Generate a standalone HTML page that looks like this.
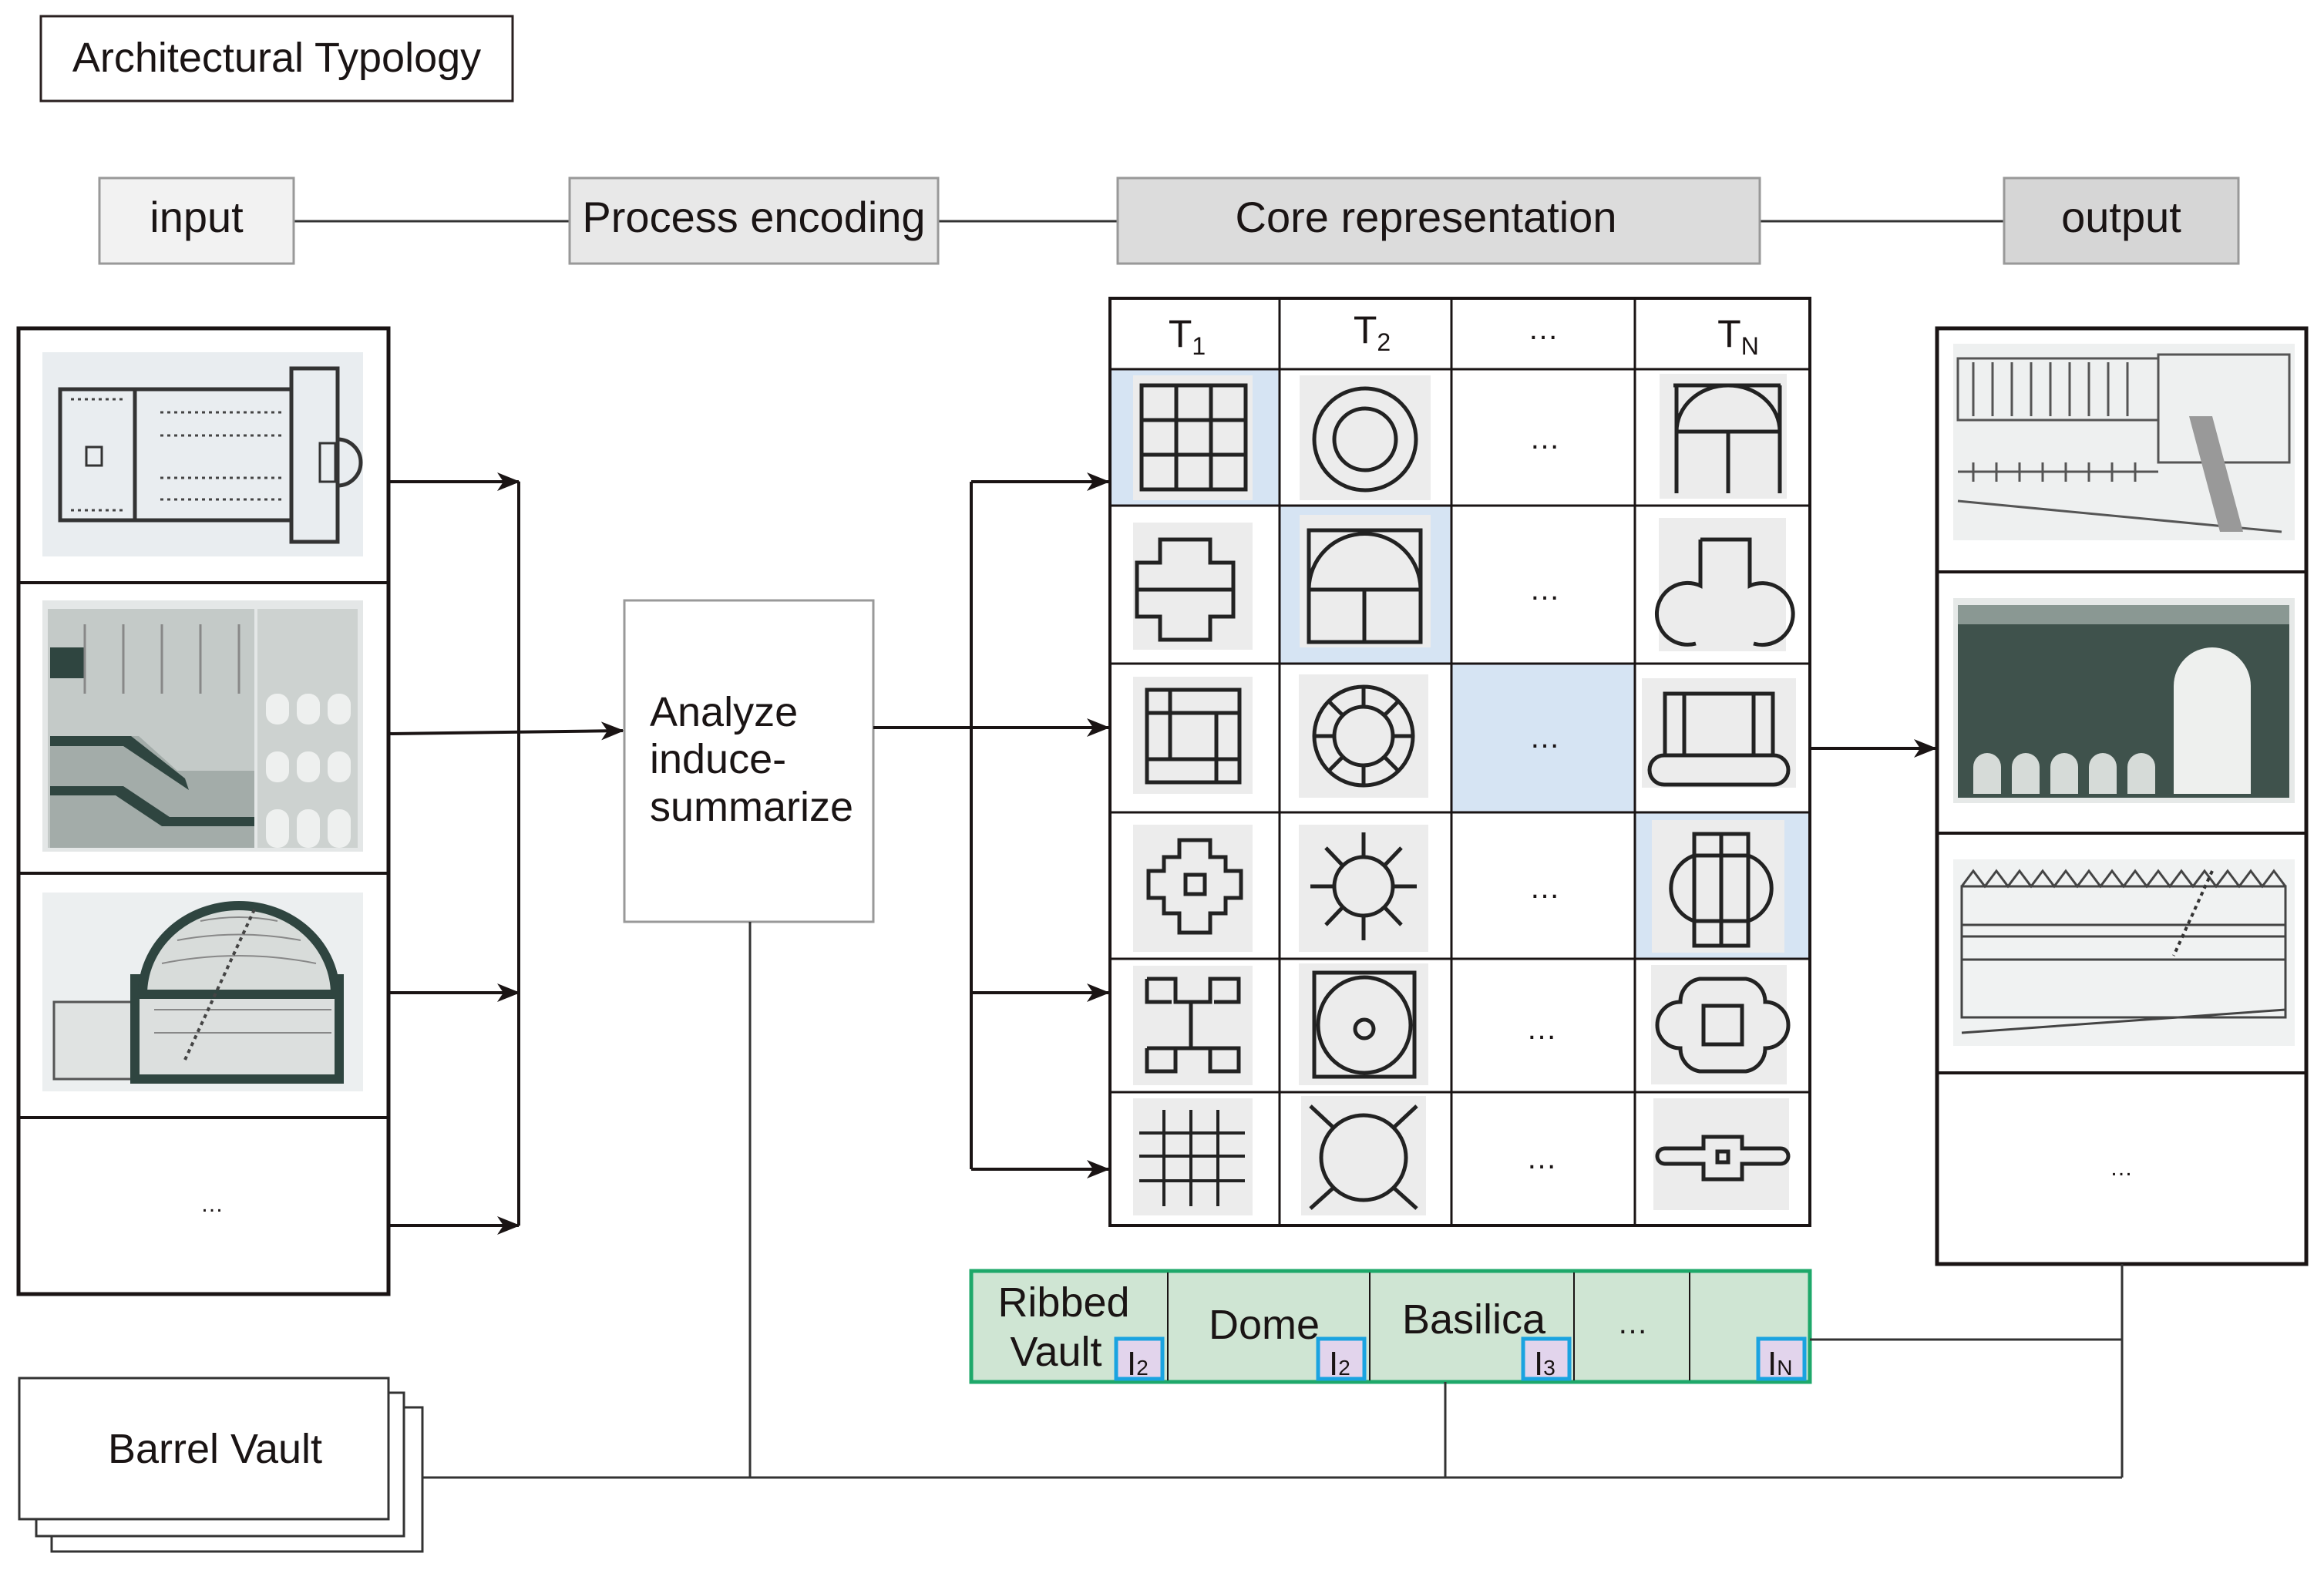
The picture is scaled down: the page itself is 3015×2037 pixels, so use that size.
<!DOCTYPE html>
<html><head><meta charset="utf-8"><style>
html,body{margin:0;padding:0;background:#fff;}
svg{display:block;}
text{font-family:"Liberation Sans","DejaVu Sans",sans-serif;fill:#1a1414;}
</style></head><body>
<svg width="3015" height="2037" viewBox="0 0 3015 2037" xmlns="http://www.w3.org/2000/svg">
<defs>
<marker id="ar" markerWidth="30" markerHeight="24" refX="28" refY="12" orient="auto" markerUnits="userSpaceOnUse">
<path d="M0,0 L30,12 L0,24 L8,12 Z" fill="#1a1414"/>
</marker>
</defs>

<!-- title -->
<rect x="53" y="21" width="612" height="110" fill="#fff" stroke="#2a2020" stroke-width="3"/>
<text x="359" y="93" font-size="54" text-anchor="middle">Architectural Typology</text>

<!-- stage line -->
<line x1="381" y1="287" x2="2600" y2="287" stroke="#333" stroke-width="3"/>
<rect x="129" y="231" width="252" height="111" fill="#f2f2f2" stroke="#999" stroke-width="3"/>
<text x="255" y="301" font-size="56" text-anchor="middle">input</text>
<rect x="739" y="231" width="478" height="111" fill="#e8e8e8" stroke="#999" stroke-width="3"/>
<text x="978" y="301" font-size="56" text-anchor="middle">Process encoding</text>
<rect x="1450" y="231" width="833" height="111" fill="#dcdcdc" stroke="#999" stroke-width="3"/>
<text x="1850" y="301" font-size="56" text-anchor="middle">Core representation</text>
<rect x="2600" y="231" width="304" height="111" fill="#d6d6d6" stroke="#999" stroke-width="3"/>
<text x="2752" y="301" font-size="56" text-anchor="middle">output</text>

<!-- left input panel -->
<rect x="24" y="426" width="480" height="1253" fill="#fff" stroke="#1a1414" stroke-width="5"/>
<line x1="24" y1="756" x2="504" y2="756" stroke="#1a1414" stroke-width="4"/>
<line x1="24" y1="1133" x2="504" y2="1133" stroke="#1a1414" stroke-width="4"/>
<line x1="24" y1="1450" x2="504" y2="1450" stroke="#1a1414" stroke-width="4"/>
<!-- img1 plan -->
<rect x="55" y="457" width="416" height="265" fill="#e9edf0"/>
<g fill="none" stroke="#333" stroke-width="5">
<rect x="78" y="505" width="300" height="170"/>
<rect x="378" y="478" width="60" height="225"/>
<line x1="175" y1="505" x2="175" y2="675"/>
<path d="M438,570 a30,30 0 0 1 0,60"/>
<rect x="112" y="580" width="20" height="24" stroke-width="3"/>
<rect x="415" y="575" width="20" height="50" stroke-width="3"/>
</g>
<g stroke="#444" stroke-width="3" stroke-dasharray="4,5">
<line x1="208" y1="535" x2="370" y2="535"/><line x1="208" y1="565" x2="370" y2="565"/>
<line x1="208" y1="620" x2="370" y2="620"/><line x1="208" y1="648" x2="370" y2="648"/>
<line x1="92" y1="518" x2="160" y2="518"/><line x1="92" y1="662" x2="160" y2="662"/>
</g>
<!-- img2 -->
<rect x="55" y="779" width="416" height="326" fill="#e4e7e7"/>
<rect x="62" y="790" width="268" height="310" fill="#c4cac8"/>
<rect x="334" y="790" width="130" height="310" fill="#cdd2d0"/>
<path d="M65,955 L180,955 L230,1000 L330,1000 L330,1100 L65,1100 Z" fill="#a3aca9"/>
<path d="M65,1020 L160,1020 L220,1060 L330,1060 L330,1072 L210,1072 L150,1032 L65,1032Z" fill="#2f4540"/>
<path d="M65,955 L170,955 L240,1010 L245,1025 L160,968 L65,968Z" fill="#2f4540"/>
<path d="M65,840 L110,840 L110,880 L65,880Z" fill="#2f4540"/>
<g fill="#eef0ef"><rect x="345" y="900" width="30" height="40" rx="14"/><rect x="385" y="900" width="30" height="40" rx="14"/><rect x="425" y="900" width="30" height="40" rx="14"/>
<rect x="345" y="975" width="30" height="40" rx="14"/><rect x="385" y="975" width="30" height="40" rx="14"/><rect x="425" y="975" width="30" height="40" rx="14"/>
<rect x="345" y="1050" width="30" height="50" rx="14"/><rect x="385" y="1050" width="30" height="50" rx="14"/><rect x="425" y="1050" width="30" height="50" rx="14"/></g>
<g stroke="#888" stroke-width="3"><line x1="110" y1="810" x2="110" y2="900"/><line x1="160" y1="810" x2="160" y2="900"/><line x1="210" y1="810" x2="210" y2="900"/><line x1="260" y1="810" x2="260" y2="900"/><line x1="310" y1="810" x2="310" y2="900"/></g>
<!-- img3 pantheon -->
<rect x="55" y="1158" width="416" height="258" fill="#eceff0"/>
<rect x="70" y="1300" width="130" height="100" fill="#e0e3e2" stroke="#555" stroke-width="3"/>
<rect x="175" y="1270" width="265" height="130" fill="#dcdfde" stroke="#2f4540" stroke-width="12"/>
<path d="M185,1290 A125,115 0 0 1 435,1290 Z" fill="#d8dcda" stroke="#2f4540" stroke-width="12"/>
<g stroke="#888" stroke-width="2" fill="none">
<path d="M210,1250 Q310,1230 410,1250"/><path d="M230,1220 Q310,1205 390,1220"/><path d="M260,1195 Q310,1185 360,1195"/>
<line x1="200" y1="1340" x2="430" y2="1340"/><line x1="200" y1="1310" x2="430" y2="1310"/>
</g>
<line x1="330" y1="1180" x2="240" y2="1375" stroke="#444" stroke-width="4" stroke-dasharray="5,5"/>
<text x="275" y="1572" font-size="30" text-anchor="middle">…</text>

<!-- left connectors -->
<line x1="504" y1="625" x2="673" y2="625" stroke="#1a1414" stroke-width="4" marker-end="url(#ar)"/>
<line x1="504" y1="1288" x2="673" y2="1288" stroke="#1a1414" stroke-width="4" marker-end="url(#ar)"/>
<line x1="504" y1="1590" x2="673" y2="1590" stroke="#1a1414" stroke-width="4" marker-end="url(#ar)"/>
<line x1="673" y1="625" x2="673" y2="1590" stroke="#1a1414" stroke-width="4"/>
<line x1="504" y1="952" x2="808" y2="948" stroke="#1a1414" stroke-width="4" marker-end="url(#ar)"/>

<!-- analyze -->
<rect x="810" y="779" width="323" height="417" fill="#fff" stroke="#999" stroke-width="3"/>
<text x="843" y="942" font-size="54">Analyze</text>
<text x="843" y="1003" font-size="54">induce-</text>
<text x="843" y="1065" font-size="54">summarize</text>

<!-- middle connectors -->
<line x1="1133" y1="944" x2="1438" y2="944" stroke="#1a1414" stroke-width="4" marker-end="url(#ar)"/>
<line x1="1260" y1="625" x2="1260" y2="1517" stroke="#1a1414" stroke-width="4"/>
<line x1="1260" y1="625" x2="1438" y2="625" stroke="#1a1414" stroke-width="4" marker-end="url(#ar)"/>
<line x1="1260" y1="1288" x2="1438" y2="1288" stroke="#1a1414" stroke-width="4" marker-end="url(#ar)"/>
<line x1="1260" y1="1517" x2="1438" y2="1517" stroke="#1a1414" stroke-width="4" marker-end="url(#ar)"/>

<!-- table -->
<rect x="1440" y="387" width="908" height="1203" fill="#fff"/>
<rect x="1440" y="479" width="220" height="177" fill="#d6e4f3"/>
<rect x="1660" y="656" width="223" height="205" fill="#d6e4f3"/>
<rect x="1883" y="861" width="238" height="193" fill="#d6e4f3"/>
<rect x="2121" y="1054" width="227" height="190" fill="#d6e4f3"/>
<g stroke="#1a1414" stroke-width="3">
<line x1="1660" y1="387" x2="1660" y2="1590"/><line x1="1883" y1="387" x2="1883" y2="1590"/><line x1="2121" y1="387" x2="2121" y2="1590"/>
<line x1="1440" y1="479" x2="2348" y2="479"/><line x1="1440" y1="656" x2="2348" y2="656"/><line x1="1440" y1="861" x2="2348" y2="861"/>
<line x1="1440" y1="1054" x2="2348" y2="1054"/><line x1="1440" y1="1244" x2="2348" y2="1244"/><line x1="1440" y1="1417" x2="2348" y2="1417"/>
</g>
<rect x="1440" y="387" width="908" height="1203" fill="none" stroke="#1a1414" stroke-width="4"/>
<text x="1540" y="450" font-size="50" text-anchor="middle">T<tspan font-size="32" dy="10">1</tspan></text>
<text x="1780" y="445" font-size="50" text-anchor="middle">T<tspan font-size="32" dy="10">2</tspan></text>
<text x="2002" y="440" font-size="40" text-anchor="middle">…</text>
<text x="2255" y="450" font-size="50" text-anchor="middle">T<tspan font-size="32" dy="10">N</tspan></text>
<g font-size="40" text-anchor="middle">
<text x="2004" y="582">…</text><text x="2004" y="778">…</text><text x="2004" y="970">…</text>
<text x="2004" y="1165">…</text><text x="2000" y="1348">…</text><text x="2000" y="1516">…</text>
</g>

<!-- icon backgrounds -->
<g fill="#ececec">
<rect x="1470" y="487" width="155" height="162"/><rect x="1686" y="487" width="170" height="162"/><rect x="2153" y="485" width="165" height="162"/>
<rect x="1470" y="678" width="155" height="165"/><rect x="1686" y="668" width="170" height="172"/><rect x="2152" y="672" width="165" height="173"/>
<rect x="1470" y="878" width="155" height="152"/><rect x="1685" y="875" width="168" height="160"/><rect x="2130" y="880" width="200" height="142"/>
<rect x="1470" y="1070" width="155" height="165"/><rect x="1685" y="1070" width="168" height="165"/><rect x="2143" y="1064" width="172" height="172"/>
<rect x="1470" y="1253" width="155" height="155"/><rect x="1685" y="1250" width="168" height="158"/><rect x="2142" y="1252" width="176" height="155"/>
<rect x="1470" y="1425" width="155" height="152"/><rect x="1688" y="1422" width="162" height="155"/><rect x="2145" y="1425" width="176" height="145"/>
</g>
<g fill="none" stroke="#222" stroke-width="5">
<rect x="1481" y="500" width="135" height="135"/><line x1="1481" y1="545" x2="1616" y2="545"/><line x1="1481" y1="590" x2="1616" y2="590"/><line x1="1526" y1="500" x2="1526" y2="635"/><line x1="1571" y1="500" x2="1571" y2="635"/>
<circle cx="1771" cy="570" r="66"/><circle cx="1771" cy="570" r="40"/>
<path d="M2171,500 L2310,500 M2175,560 A67,60 0 0 1 2309,560 L2175,560 M2175,500 L2175,640 M2309,500 L2309,640 M2242,560 L2242,640"/>
<path d="M1505,700 L1570,700 L1570,730 L1600,730 L1600,800 L1570,800 L1570,830 L1505,830 L1505,800 L1475,800 L1475,730 L1505,730 Z"/>
<line x1="1475" y1="765" x2="1600" y2="765"/>
<rect x="1698" y="688" width="145" height="145"/><path d="M1698,765 A72,72 0 0 1 1843,765 L1698,765 M1770,765 L1770,833"/>
<path d="M2206,700 L2270,700 L2270,760 A40,40 0 1 1 2275,835 M2206,700 L2206,760 A40,40 0 1 0 2200,835"/>
<rect x="1488" y="895" width="120" height="120"/><rect x="1518" y="925" width="60" height="60"/>
<line x1="1488" y1="925" x2="1608" y2="925"/><line x1="1488" y1="985" x2="1608" y2="985"/><line x1="1518" y1="895" x2="1518" y2="925"/><line x1="1578" y1="985" x2="1578" y2="1015"/>
<circle cx="1769" cy="955" r="64"/><circle cx="1769" cy="955" r="38"/>
<path d="M1769,891 L1769,917 M1769,993 L1769,1019 M1705,955 L1731,955 M1807,955 L1833,955 M1724,910 L1742,928 M1814,910 L1796,928 M1724,1000 L1742,982 M1814,1000 L1796,982"/>
<rect x="2160" y="900" width="140" height="80"/><line x1="2185" y1="900" x2="2185" y2="980"/><line x1="2275" y1="900" x2="2275" y2="980"/>
<rect x="2140" y="980" width="180" height="38" rx="19"/>
<path d="M1530,1090 L1570,1090 L1570,1112 L1590,1112 L1590,1130 L1610,1130 L1610,1165 L1590,1165 L1590,1185 L1570,1185 L1570,1210 L1530,1210 L1530,1185 L1510,1185 L1510,1165 L1490,1165 L1490,1130 L1510,1130 L1510,1112 L1530,1112Z"/>
<rect x="1538" y="1135" width="25" height="25"/>
<circle cx="1769" cy="1150" r="38"/>
<path d="M1769,1112 L1769,1080 M1769,1188 L1769,1220 M1731,1150 L1700,1150 M1807,1150 L1838,1150 M1742,1123 L1720,1100 M1796,1123 L1818,1100 M1742,1177 L1720,1200 M1796,1177 L1818,1200"/>
<rect x="2198" y="1082" width="70" height="145"/><line x1="2233" y1="1082" x2="2233" y2="1227"/>
<path d="M2198,1110 A45,45 0 0 0 2198,1195 M2268,1110 A45,45 0 0 1 2268,1195 M2198,1110 L2268,1110 M2198,1195 L2268,1195"/>
<path d="M1488,1270 L1525,1270 L1525,1300 L1570,1300 L1570,1270 L1607,1270 L1607,1300 L1575,1300 M1488,1270 L1488,1300 L1520,1300 M1545,1300 L1545,1360 M1488,1360 L1607,1360 L1607,1390 L1570,1390 L1570,1360 M1488,1360 L1488,1390 L1525,1390 L1525,1360"/>
<rect x="1705" y="1262" width="130" height="135"/><ellipse cx="1770" cy="1330" rx="60" ry="62"/><circle cx="1770" cy="1335" r="12"/>
<path d="M2205,1270 L2265,1270 A30,30 0 0 1 2290,1300 A30,30 0 0 1 2290,1360 A30,30 0 0 1 2265,1390 L2205,1390 A30,30 0 0 1 2180,1360 A30,30 0 0 1 2180,1300 A30,30 0 0 1 2205,1270Z"/>
<rect x="2210" y="1305" width="50" height="50"/>
<g stroke-width="4"><line x1="1478" y1="1470" x2="1615" y2="1470"/><line x1="1478" y1="1500" x2="1615" y2="1500"/><line x1="1478" y1="1532" x2="1615" y2="1532"/>
<line x1="1510" y1="1440" x2="1510" y2="1565"/><line x1="1545" y1="1440" x2="1545" y2="1565"/><line x1="1580" y1="1440" x2="1580" y2="1565"/></g>
<ellipse cx="1769" cy="1502" rx="55" ry="55"/>
<path d="M1730,1463 L1700,1435 M1808,1463 L1838,1435 M1730,1541 L1700,1568 M1808,1541 L1838,1568"/>
<path d="M2160,1490 L2210,1490 L2210,1475 L2260,1475 L2260,1490 L2310,1490 A10,10 0 0 1 2310,1510 L2260,1510 L2260,1530 L2210,1530 L2210,1510 L2160,1510 A10,10 0 0 1 2160,1490Z"/>
<rect x="2228" y="1494" width="14" height="14"/>
</g>

<!-- table to output arrow -->
<line x1="2348" y1="971" x2="2511" y2="971" stroke="#1a1414" stroke-width="4" marker-end="url(#ar)"/>

<!-- output panel -->
<rect x="2513" y="426" width="479" height="1214" fill="#fff" stroke="#1a1414" stroke-width="5"/>
<line x1="2513" y1="742" x2="2992" y2="742" stroke="#1a1414" stroke-width="4"/>
<line x1="2513" y1="1081" x2="2992" y2="1081" stroke="#1a1414" stroke-width="4"/>
<line x1="2513" y1="1392" x2="2992" y2="1392" stroke="#1a1414" stroke-width="4"/>
<rect x="2534" y="446" width="443" height="255" fill="#eef0f0"/>
<g fill="none" stroke="#555" stroke-width="3">
<rect x="2540" y="465" width="260" height="80"/><rect x="2800" y="460" width="170" height="140"/>
<line x1="2540" y1="612" x2="2800" y2="612"/><line x1="2540" y1="650" x2="2960" y2="690"/>
<path d="M2560,470 v70 M2585,470 v70 M2610,470 v70 M2635,470 v70 M2660,470 v70 M2685,470 v70 M2710,470 v70 M2735,470 v70 M2760,470 v70"/>
<path d="M2560,600 v25 M2590,600 v25 M2620,600 v25 M2650,600 v25 M2680,600 v25 M2710,600 v25 M2740,600 v25 M2770,600 v25"/>
</g>
<path d="M2840,540 L2870,540 L2910,690 L2880,690Z" fill="#999"/>
<rect x="2534" y="776" width="443" height="266" fill="#e6e9e8"/>
<rect x="2540" y="785" width="430" height="250" fill="#3f524c"/>
<rect x="2540" y="785" width="430" height="25" fill="#8a9893"/>
<path d="M2820,1030 L2820,890 A50,50 0 0 1 2920,890 L2920,1030Z" fill="#eef0ee"/>
<g fill="#d6dbd8"><path d="M2560,1030 v-35 a18,18 0 0 1 36,0 v35Z"/><path d="M2610,1030 v-35 a18,18 0 0 1 36,0 v35Z"/><path d="M2660,1030 v-35 a18,18 0 0 1 36,0 v35Z"/><path d="M2710,1030 v-35 a18,18 0 0 1 36,0 v35Z"/><path d="M2760,1030 v-35 a18,18 0 0 1 36,0 v35Z"/></g>
<rect x="2534" y="1115" width="443" height="242" fill="#f0f2f2"/>
<g fill="none" stroke="#444" stroke-width="3">
<path d="M2545,1150 l15,-20 l15,20 l15,-20 l15,20 l15,-20 l15,20 l15,-20 l15,20 l15,-20 l15,20 l15,-20 l15,20 l15,-20 l15,20 l15,-20 l15,20 l15,-20 l15,20 l15,-20 l15,20 l15,-20 l15,20 l15,-20 l15,20 l15,-20 l15,20 l15,-20 l15,20"/>
<rect x="2545" y="1150" width="420" height="170"/>
<line x1="2545" y1="1200" x2="2965" y2="1200"/><line x1="2545" y1="1215" x2="2965" y2="1215"/><line x1="2545" y1="1245" x2="2965" y2="1245"/>
<line x1="2545" y1="1340" x2="2965" y2="1310"/>
</g>
<line x1="2870" y1="1130" x2="2820" y2="1240" stroke="#333" stroke-width="4" stroke-dasharray="5,5"/>
<text x="2752" y="1525" font-size="30" text-anchor="middle">…</text>

<!-- green bar -->
<rect x="1260" y="1649" width="1088" height="144" fill="#cfe5d3" stroke="#1ea86a" stroke-width="5"/>
<g stroke="#1a1414" stroke-width="2"><line x1="1515" y1="1651" x2="1515" y2="1791"/><line x1="1777" y1="1651" x2="1777" y2="1791"/><line x1="2042" y1="1651" x2="2042" y2="1791"/><line x1="2192" y1="1651" x2="2192" y2="1791"/></g>
<text x="1380" y="1708" font-size="54" text-anchor="middle">Ribbed</text>
<text x="1370" y="1772" font-size="54" text-anchor="middle">Vault</text>
<text x="1640" y="1737" font-size="54" text-anchor="middle">Dome</text>
<text x="1912" y="1730" font-size="54" text-anchor="middle">Basilica</text>
<text x="2118" y="1730" font-size="40" text-anchor="middle">…</text>
<g fill="#e2d4ec" stroke="#1aa3e0" stroke-width="5">
<rect x="1448" y="1737" width="60" height="52"/><rect x="1710" y="1737" width="60" height="52"/><rect x="1976" y="1737" width="60" height="52"/><rect x="2281" y="1737" width="60" height="52"/>
</g>
<g font-size="44"><text x="1462" y="1784">I<tspan font-size="28">2</tspan></text><text x="1724" y="1784">I<tspan font-size="28">2</tspan></text><text x="1990" y="1784">I<tspan font-size="28">3</tspan></text><text x="2293" y="1784">I<tspan font-size="28">N</tspan></text></g>

<!-- bottom connectors -->
<g stroke="#333" stroke-width="3">
<line x1="2348" y1="1738" x2="2753" y2="1738"/>
<line x1="2753" y1="1640" x2="2753" y2="1917"/>
<line x1="1875" y1="1793" x2="1875" y2="1917"/>
<line x1="973" y1="1196" x2="973" y2="1917"/>
<line x1="548" y1="1917" x2="2753" y2="1917"/>
</g>

<!-- barrel vault stack -->
<rect x="67" y="1826" width="481" height="187" fill="#fff" stroke="#333" stroke-width="3"/>
<rect x="47" y="1807" width="477" height="186" fill="#fff" stroke="#333" stroke-width="3"/>
<rect x="25" y="1788" width="479" height="183" fill="#fff" stroke="#333" stroke-width="3"/>
<text x="279" y="1898" font-size="54" text-anchor="middle">Barrel Vault</text>
</svg>
</body></html>
